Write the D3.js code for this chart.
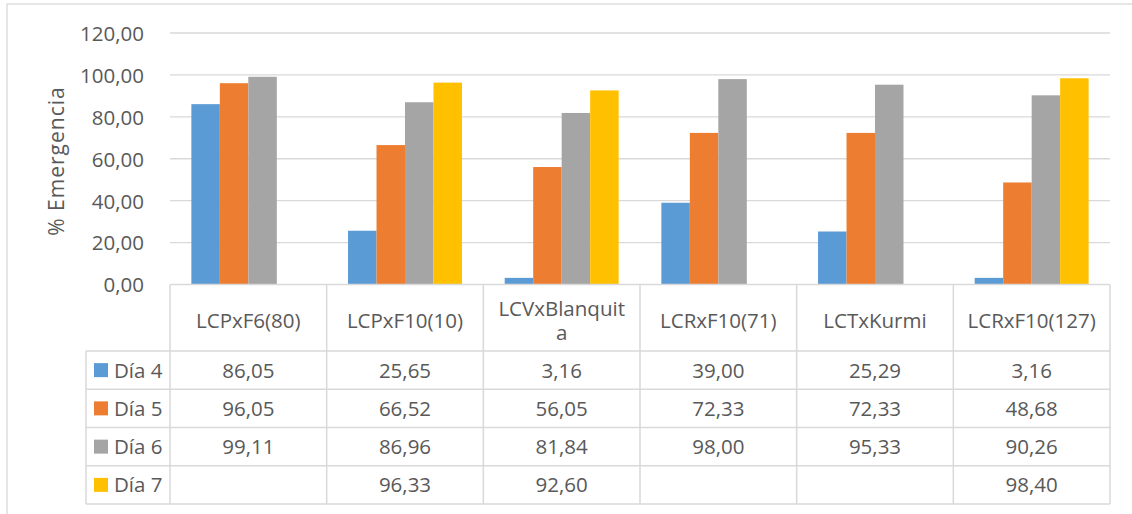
<!DOCTYPE html>
<html>
<head>
<meta charset="utf-8">
<script src="https://cdn.jsdelivr.net/npm/d3@7/dist/d3.min.js"></script>
<style>
  html, body { margin: 0; padding: 0; background: #fff; }
  svg { display: block; }
  text { font-family: "Open Sans", "Noto Sans", sans-serif; fill: #595959; }
</style>
</head>
<body>
<svg id="chart" width="1132" height="514"></svg>
<script>
// Crosses and emergence percentage per day
const categories = ["LCPxF6(80)", "LCPxF10(10)", "LCVxBlanquita", "LCRxF10(71)", "LCTxKurmi", "LCRxF10(127)"];
const seriesNames = ["Día 4", "Día 5", "Día 6", "Día 7"];
const dia4 = [86.05, 25.65, 3.16, 39.00, 25.29, 3.16];
const dia5 = [96.05, 66.52, 56.05, 72.33, 72.33, 48.68];
const dia6 = [99.11, 86.96, 81.84, 98.00, 95.33, 90.26];
const dia7 = [null, 96.33, 92.60, null, null, 98.40];
const seriesColors = ["#5B9BD5", "#ED7D31", "#A5A5A5", "#FFC000"];
const yTicks = [0, 20, 40, 60, 80, 100, 120];
const yTitle = "% Emergencia";

const seriesValues = [dia4, dia5, dia6, dia7];
const series = seriesNames.map((name, i) => ({ name, color: seriesColors[i], values: seriesValues[i] }));

const locale = d3.formatLocale({ decimal: ",", thousands: ".", grouping: [3], currency: ["", ""] });
const fmt = locale.format(".2f");

const svg = d3.select("#chart");
const lineColor = "#d9d9d9";
const fontSize = 20.5;

// Outer chart frame
svg.append("rect")
  .attr("x", 7).attr("y", 4).attr("width", 1140).attr("height", 530)
  .attr("fill", "none").attr("stroke", lineColor).attr("stroke-width", 1.3);

const plotLeft = 170, plotRight = 1110, plotTop = 33, plotBottom = 284.5;

const x = d3.scaleBand().domain(categories).range([plotLeft, plotRight]).padding(0);
const xs = d3.scaleBand().domain(seriesNames).range([0, x.bandwidth()])
  .paddingInner(0).paddingOuter(0.75);
const y = d3.scaleLinear().domain([0, 120]).range([plotBottom, plotTop]);

// Horizontal gridlines
svg.append("g").selectAll("line")
  .data(yTicks.filter(t => t > 0))
  .join("line")
  .attr("x1", plotLeft).attr("x2", plotRight)
  .attr("y1", d => y(d)).attr("y2", d => y(d))
  .attr("stroke", lineColor).attr("stroke-width", 1.3);

// Y axis labels
const yAxis = d3.axisLeft(y).tickValues(yTicks).tickSize(0).tickPadding(0).tickFormat(fmt);
const gy = svg.append("g").attr("transform", `translate(144,0)`).call(yAxis);
gy.select(".domain").remove();
gy.selectAll("text")
  .attr("font-family", "Open Sans")
  .attr("font-size", fontSize)
  .attr("fill", "#595959")
  .attr("dy", "0.36em");

// Y axis title
svg.append("text")
  .attr("transform", "translate(64,161) rotate(-90)")
  .attr("text-anchor", "middle")
  .attr("font-size", 21)
  .attr("letter-spacing", 1)
  .text(yTitle);

// Bars
const groups = svg.append("g").selectAll("g")
  .data(series)
  .join("g")
  .attr("fill", d => d.color);

groups.selectAll("rect")
  .data(s => s.values.map((v, i) => ({ name: s.name, cat: categories[i], v })).filter(d => d.v != null))
  .join("rect")
  .attr("x", d => x(d.cat) + xs(d.name))
  .attr("width", xs.bandwidth())
  .attr("y", d => y(d.v))
  .attr("height", d => y(0) - y(d.v));

// Data table
const headerBottom = 351, tableBottom = 504, legendLeft = 86;
const rowScale = d3.scaleBand().domain(seriesNames).range([headerBottom, tableBottom]);
const tbl = svg.append("g").attr("stroke", lineColor).attr("stroke-width", 1.5);

// Axis / header top line
tbl.append("line")
  .attr("x1", plotLeft).attr("x2", plotRight)
  .attr("y1", plotBottom).attr("y2", plotBottom);

// Row lines
const rowEdges = seriesNames.map(n => rowScale(n)).concat([tableBottom]);
tbl.selectAll("line.row")
  .data(rowEdges)
  .join("line").attr("class", "row")
  .attr("x1", legendLeft).attr("x2", plotRight)
  .attr("y1", d => d).attr("y2", d => d);

// Column lines
const colEdges = categories.map(c => x(c)).concat([plotRight]);
tbl.selectAll("line.col")
  .data(colEdges)
  .join("line").attr("class", "col")
  .attr("x1", d => d).attr("x2", d => d)
  .attr("y1", plotBottom).attr("y2", tableBottom);

tbl.append("line")
  .attr("x1", legendLeft).attr("x2", legendLeft)
  .attr("y1", headerBottom).attr("y2", tableBottom);

// Category headers, wrapped by character when too wide for the cell
const measure = svg.append("text").attr("font-size", fontSize).attr("visibility", "hidden");
function wrapChars(str, maxW) {
  const lines = [];
  let cur = "";
  for (const ch of str) {
    measure.text(cur + ch);
    if (cur && measure.node().getComputedTextLength() > maxW) {
      lines.push(cur);
      cur = ch;
    } else {
      cur += ch;
    }
  }
  if (cur) lines.push(cur);
  return lines;
}
const headerCenter = (plotBottom + headerBottom) / 2;
const lineH = 24;
const headerG = svg.append("g");
categories.forEach(cat => {
  const lines = wrapChars(cat, x.bandwidth() - 22);
  const n = lines.length;
  headerG.selectAll(null)
    .data(lines)
    .enter().append("text")
    .attr("text-anchor", "middle")
    .attr("font-size", fontSize)
    .attr("x", x(cat) + x.bandwidth() / 2)
    .attr("y", (l, i) => headerCenter + 10 + (i - (n - 1) / 2) * lineH)
    .text(l => l);
});
measure.remove();

// Legend keys and row labels
const rows = svg.append("g").selectAll("g")
  .data(series)
  .join("g")
  .attr("transform", d => `translate(0,${rowScale(d.name) + rowScale.bandwidth() / 2})`);

rows.append("rect")
  .attr("x", 94).attr("y", -7).attr("width", 14).attr("height", 14)
  .attr("fill", d => d.color);

rows.append("text")
  .attr("x", 114).attr("dy", "0.36em")
  .attr("font-size", fontSize)
  .text(d => d.name);

// Cell values
rows.selectAll("text.val")
  .data(d => d.values.map((v, i) => ({ v, cat: categories[i] })).filter(c => c.v != null))
  .join("text").attr("class", "val")
  .attr("x", c => x(c.cat) + x.bandwidth() / 2)
  .attr("dy", "0.36em")
  .attr("text-anchor", "middle")
  .attr("font-size", fontSize)
  .text(c => fmt(c.v));
</script>
</body>
</html>
